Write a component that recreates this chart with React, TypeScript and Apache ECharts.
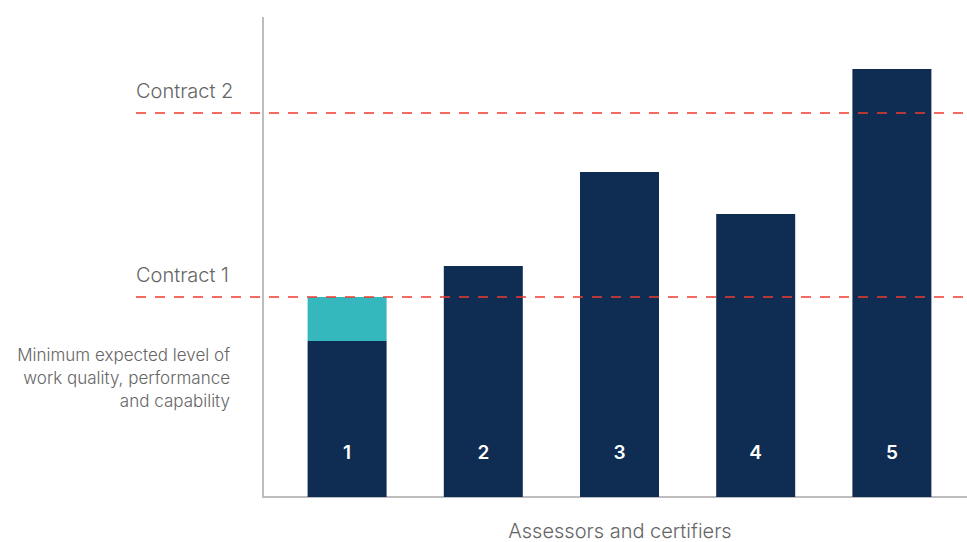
import React, { useEffect, useRef } from "react";
import * as echarts from "echarts";

const categories = ["1", "2", "3", "4", "5"];
const baseValues = [1.56, 2.31, 3.25, 2.83, 4.28];
const gapValues = [0.44, 0, 0, 0, 0];
const contracts = [
  { name: "Contract 1", value: 2.0 },
  { name: "Contract 2", value: 3.84 },
];
const yMax = 4.79;
const minimumText = "Minimum expected level of\nwork quality, performance\nand capability";
const xAxisTitle = "Assessors and certifiers";

const FONT = "Inter, 'Noto Sans', sans-serif";

export default function App() {
  const ref = useRef<HTMLDivElement>(null);
  useEffect(() => {
    if (!ref.current) return;
    const chart = echarts.init(ref.current, undefined, { renderer: "svg" });
    chart.setOption({
      animation: false,
      grid: { left: 279, right: 7, top: 18, bottom: 45 },
      xAxis: {
        type: "category",
        data: categories,
        axisLine: { show: false },
        axisTick: { show: false },
        axisLabel: { show: false },
      },
      yAxis: {
        type: "value",
        min: 0,
        max: yMax,
        axisLine: { show: false },
        axisTick: { show: false },
        axisLabel: { show: false },
        splitLine: { show: false },
      },
      graphic: [
        {
          type: "line",
          shape: { x1: 263, y1: 17, x2: 263, y2: 497 },
          style: { stroke: "#bdbdbd", lineWidth: 2 },
          z: 1,
        },
        {
          type: "line",
          shape: { x1: 262, y1: 497, x2: 967, y2: 497 },
          style: { stroke: "#bdbdbd", lineWidth: 2 },
          z: 1,
        },
        {
          type: "text",
          x: 230,
          y: 343,
          style: {
            text: minimumText,
            fill: "#666666",
            font: `300 17px ${FONT}`,
            align: "right",
            lineHeight: 23,
          },
        },
        {
          type: "text",
          x: 620,
          y: 521,
          style: {
            text: xAxisTitle,
            fill: "#666666",
            font: `300 20px ${FONT}`,
            align: "center",
            lineHeight: 20,
          },
        },
      ],
      series: [
        {
          type: "bar",
          stack: "s",
          data: baseValues,
          barWidth: 79,
          clip: false,
          itemStyle: { color: "#0f2d52" },
          label: {
            show: true,
            position: "insideBottom",
            distance: 35,
            formatter: (p: any) => categories[p.dataIndex],
            color: "#ffffff",
            fontSize: 19,
            fontWeight: 600,
            fontFamily: FONT,
          },
          z: 2,
        },
        {
          type: "bar",
          stack: "s",
          data: gapValues,
          barWidth: 79,
          clip: false,
          itemStyle: { color: "#35b8bd" },
          z: 2,
          markLine: {
            silent: true,
            symbol: "none",
            z: 10,
            lineStyle: { color: "#f03a2e", type: [10, 9], width: 1.5 },
            label: {
              show: true,
              position: "insideStartTop",
              distance: [0, 12],
              color: "#666666",
              fontSize: 20,
              fontWeight: 300,
              fontFamily: FONT,
              formatter: (p: any) => p.name,
            },
            data: contracts.map((c) => [
              { name: c.name, x: 136, yAxis: c.value },
              { x: 967, yAxis: c.value },
            ]),
          },
        },
      ],
    });
    return () => chart.dispose();
  }, []);
  return <div ref={ref} style={{ width: 967, height: 542, position: "absolute", left: 0, top: 0 }} />;
}
